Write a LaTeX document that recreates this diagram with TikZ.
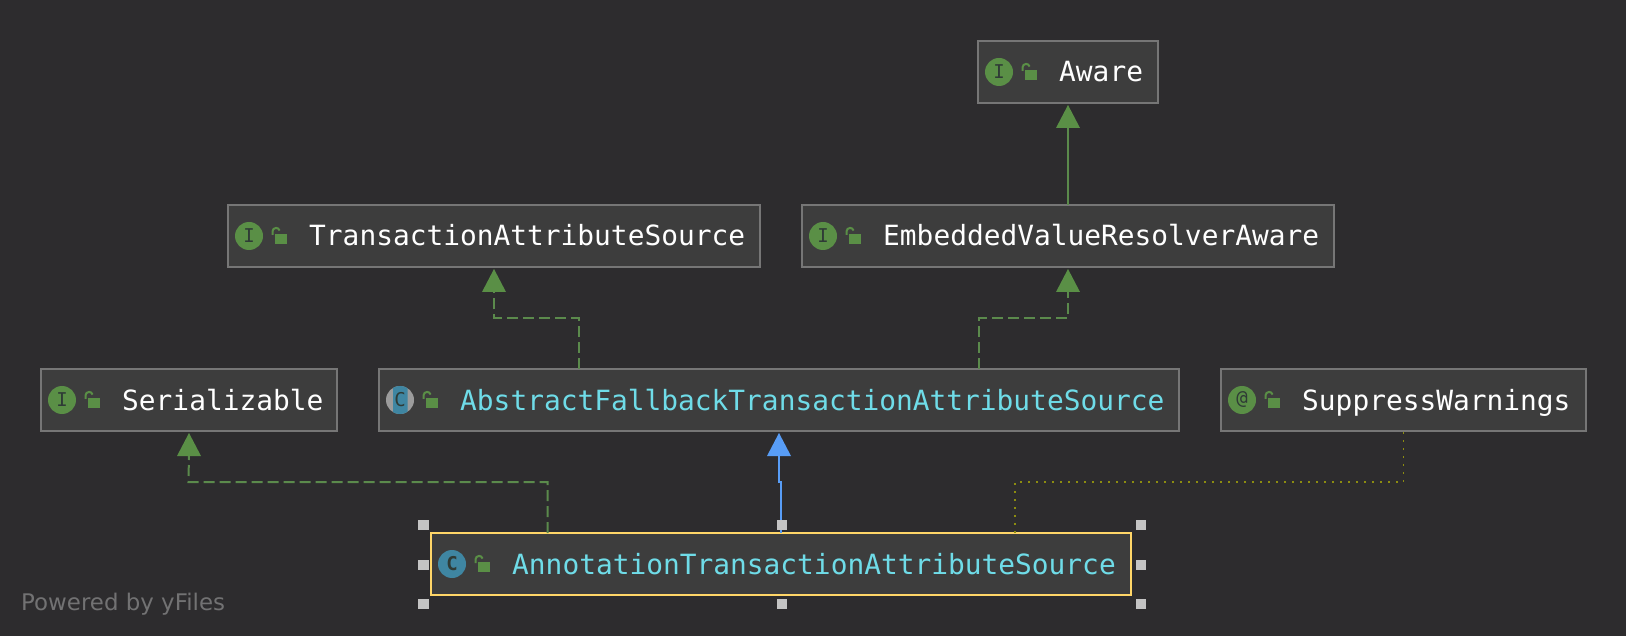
\documentclass[tikz,border=0pt]{standalone}
\usepackage{fontspec}
\setmainfont{DejaVu Sans}
\newfontfamily\monof{DejaVu Sans Mono}
\usetikzlibrary{arrows.meta,calc}
\definecolor{bgc}{HTML}{2D2C2E}
\definecolor{boxfill}{HTML}{3D3D3D}
\definecolor{boxline}{HTML}{767676}
\definecolor{selline}{HTML}{FFD668}
\definecolor{gr}{HTML}{5A8F46}
\definecolor{grline}{HTML}{5B8A4C}
\definecolor{bl}{HTML}{589DF6}
\definecolor{cy}{HTML}{6FDCE8}
\definecolor{icb}{HTML}{3F86A2}
\definecolor{icd}{HTML}{2F3B36}
\definecolor{ol}{HTML}{8C8C10}
\definecolor{hd}{HTML}{C4C4C4}
\tikzset{
  x=1pt,y=-1pt,
  umlbox/.style={draw=boxline,fill=boxfill,line width=2.2pt,inner sep=0,outer sep=0pt},
  sel/.style={draw=selline},
  ltext/.style={anchor=base west,inner sep=0,font=\monof\fontsize{27.85}{30}\selectfont},
  iconc/.style={circle,minimum size=28pt,inner sep=0,fill=gr,text=icd,font=\monof\fontsize{19}{19}\selectfont},
  handle/.style={fill=hd,draw=none,minimum size=10.7pt,inner sep=0},
  lockb/.style={fill=gr,draw=none,minimum width=12pt,minimum height=10.5pt,inner sep=0},
  dashl/.style={grline,line width=2pt,dash pattern=on 11pt off 5pt},
  gen/.style={grline,line width=2pt},
  blu/.style={bl,line width=2pt},
  dotl/.style={ol,line width=1.7pt,dash pattern=on 1.7pt off 6.3pt},
  shk/.style={gr,line width=2pt},
  headg/.style={fill=gr,draw=none},
  headb/.style={fill=bl,draw=none},
}
\newcommand{\umlnode}[8]{% name,l,t,r,b,text,textcolor,extra style
  \node[umlbox,#8,minimum width=#4pt-#2pt,minimum height=#5pt-#3pt] (#1) at ($(#2,#3)!0.5!(#4,#5)$) {};
  \node[ltext,text=#7] (#1-t) at ($(#1.west)+(81,10)$) {#6};
  \node[lockb] (#1-l) at ($(#1.west)+(53,3)$) {};
  \draw[shk] ($(#1.west)+(44.5,-1)$) -- ++(0,-3.5) arc[start angle=180,end angle=345,radius=3.6];
}
\newcommand{\ico}[3]{% name, box, letter
  \node[iconc] (#1) at ($(#2.west)+(21,0)$) {#3};
}
\newcommand{\headat}[2]{% coordinate of tip, style
  \fill[#2] (#1) -- ++(12,23) -- ++(-24,0) -- cycle;
}
\begin{document}
\begin{tikzpicture}
\path[fill=bgc,use as bounding box] (0,0) rectangle (1626,636);
\umlnode{aware}{978}{41}{1158}{103}{Aware}{white}{}
\ico{aware-i}{aware}{I}
\umlnode{tas}{228}{205}{760}{267}{TransactionAttributeSource}{white}{}
\ico{tas-i}{tas}{I}
\umlnode{evra}{802}{205}{1334}{267}{EmbeddedValueResolverAware}{white}{}
\ico{evra-i}{evra}{I}
\umlnode{ser}{41}{369}{337}{431}{Serializable}{white}{}
\ico{ser-i}{ser}{I}
\umlnode{afb}{379}{369}{1179}{431}{AbstractFallbackTransactionAttributeSource}{cy}{}
\node[circle,minimum size=28pt,inner sep=0,fill=hd!70!boxfill] (afb-g) at ($(afb.west)+(21,0)$) {};
\begin{scope}
\clip ($(afb.west)+(14,-14)$) rectangle ++(14.5,28);
\fill[icb] (afb-g) circle (14);
\end{scope}
\node[inner sep=0,text=icd,font=\monof\fontsize{19}{19}\selectfont] (afb-c) at (afb-g) {C};
\umlnode{sup}{1221}{369}{1586}{431}{SuppressWarnings}{white}{}
\ico{sup-i}{sup}{@}
\umlnode{ann}{431}{533}{1131}{595}{AnnotationTransactionAttributeSource}{cy}{sel}
\node[iconc,fill=icb,font=\monof\bfseries\fontsize{19}{19}\selectfont] (ann-i) at ($(ann.west)+(21,0)$) {C};
% connectors
\coordinate (e1) at ($(tas.south)+(0,2)$);
\coordinate (e3) at ($(evra.south)+(0,2)$);
\coordinate (e5) at ($(ser.south)+(0,2)$);
\coordinate (e9) at ($(afb.south)+(0,2)$);
\coordinate (e0) at ($(aware.south)+(0,2)$);
\coordinate (e2) at ($(afb.north west)+(199.5,0)$);
\coordinate (e4) at ($(afb.north west)+(600,0)$);
\coordinate (e6) at ($(ann.north west)+(116.5,0)$);
\coordinate (e7) at ($(ann.north west)+(584,0)$);
\draw[gen] (evra.north) -- ($(e0)+(0,20)$);
\headat{e0}{headg}
\draw[dashl] (e2) |- (494,318) -- ($(e1)+(0,20)$);
\headat{e1}{headg}
\draw[dashl] (e4) |- (1068,318) -- ($(e3)+(0,20)$);
\headat{e3}{headg}
\draw[dashl] (e6) |- (188.5,482) -- ($(e5)+(0,20)$);
\headat{e5}{headg}
\draw[blu] (ann.north) -- (781,482) -- (779,482) -- ($(e9)+(0,20)$);
\headat{e9}{headb}
\draw[dotl] (e7) |- (1403.5,482) -- (sup.south);
% selection handles
\node[handle] (h1) at (423.5,525) {};
\node[handle] (h2) at (782,525) {};
\node[handle] (h3) at (1141,525) {};
\node[handle] (h4) at (423.5,565) {};
\node[handle] (h5) at (1141,565) {};
\node[handle] (h6) at (423.5,604) {};
\node[handle] (h7) at (782,604) {};
\node[handle] (h8) at (1141,604) {};
\node[anchor=west,inner sep=0,text=white!33!bgc,font=\fontsize{22.9}{24}\selectfont] (pow) at (21,604) {Powered by yFiles};
\end{tikzpicture}
\end{document}
